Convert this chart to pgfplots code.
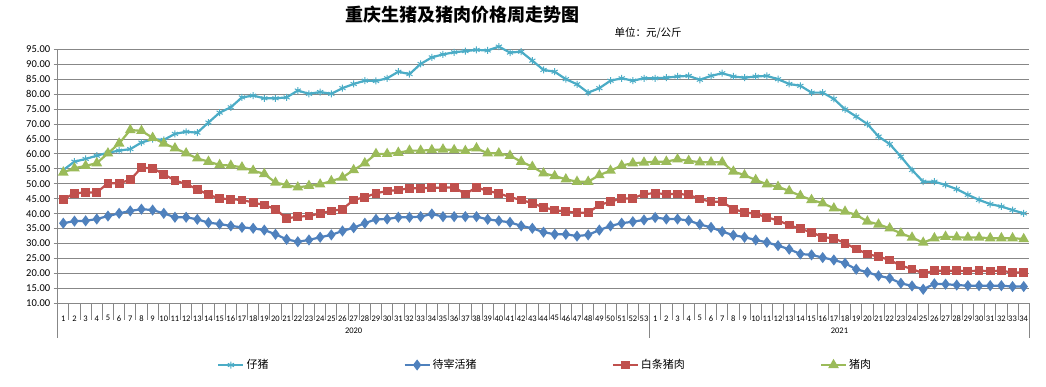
\documentclass[border=0pt]{standalone}
\usepackage{pgfplots}
\pgfplotsset{compat=1.18}
\usepackage{pgfplotstable}
\usepackage{fontspec}
\setmainfont{Carlito}
\newfontfamily\cjk{Noto Sans CJK SC}
\definecolor{czz}{HTML}{4BACC6}
\definecolor{cdz}{HTML}{4F81BD}
\definecolor{cbt}{HTML}{C0504D}
\definecolor{czr}{HTML}{9BBB59}
\definecolor{axgray}{HTML}{878787}
\pgfplotstableread{
x zz dz bt zr
1 54.6 36.8 44.8 53.8
2 57.4 37.5 46.8 55.2
3 58.3 37.6 47.1 56.0
4 59.4 38.2 47.1 56.9
5 60.4 39.2 50.2 60.2
6 61.1 40.1 50.2 63.5
7 61.6 40.9 51.3 68.0
8 63.8 41.5 55.4 67.7
9 64.9 41.2 55.2 65.4
10 64.7 40.1 53.2 63.5
11 66.7 38.8 51.1 61.9
12 67.4 38.8 49.9 60.2
13 67.1 38.1 48.2 58.5
14 70.5 37.0 46.3 57.4
15 73.8 36.5 45.1 56.3
16 75.6 35.9 44.8 56.1
17 78.9 35.4 44.6 55.5
18 79.5 35.1 43.7 54.4
19 78.6 34.5 42.9 53.3
20 78.6 33.1 41.5 50.4
21 78.9 31.4 38.4 49.6
22 81.2 30.6 39.0 48.8
23 80.1 31.2 39.2 49.3
24 80.7 32.1 40.1 49.8
25 80.1 32.9 40.9 50.9
26 82.0 34.2 41.5 52.1
27 83.4 35.3 44.6 54.6
28 84.5 36.8 45.5 56.9
29 84.4 38.1 46.8 60.0
30 85.3 38.2 47.6 60.0
31 87.5 38.8 47.9 60.4
32 86.7 38.8 48.5 61.1
33 90.1 39.0 48.5 61.1
34 92.3 39.9 48.7 61.3
35 93.3 39.0 48.7 61.5
36 94.0 39.0 48.8 61.3
37 94.4 39.0 46.6 61.0
38 94.8 39.0 48.8 61.9
39 94.6 38.1 47.6 60.2
40 95.9 37.6 46.8 60.2
41 93.9 37.1 45.5 59.4
42 94.2 35.9 44.6 57.4
43 91.2 35.1 43.5 55.7
44 88.1 33.8 42.1 53.5
45 87.5 33.1 41.2 52.6
46 85.0 33.1 40.7 51.5
47 83.3 32.5 40.3 50.7
48 80.5 32.9 40.3 50.7
49 82.0 34.5 42.9 52.9
50 84.5 35.9 44.0 54.4
51 85.3 36.8 45.1 56.1
52 84.5 37.3 45.1 56.9
53 85.3 37.9 46.6 57.1
54 85.3 38.7 46.8 57.4
55 85.5 38.2 46.6 57.4
56 85.9 38.2 46.6 58.2
57 86.1 37.7 46.3 57.7
58 84.8 36.4 44.9 57.2
59 86.1 35.4 44.0 57.2
60 87.0 34.0 44.0 57.2
61 85.9 32.8 41.5 54.1
62 85.5 32.1 40.5 52.9
63 85.9 31.2 39.9 51.3
64 86.1 30.4 38.8 49.8
65 85.0 29.3 37.7 49.0
66 83.4 28.1 36.2 47.6
67 82.8 26.5 34.9 46.0
68 80.5 26.2 33.8 44.6
69 80.5 25.3 32.1 43.5
70 78.4 24.5 31.8 41.8
71 74.9 23.4 30.1 40.7
72 72.5 21.4 28.2 39.6
73 70.0 20.4 26.5 37.4
74 65.8 19.2 25.6 36.4
75 63.3 18.4 24.5 35.1
76 59.1 16.7 22.6 33.4
77 54.6 15.8 21.5 32.0
78 50.7 14.7 20.0 30.3
79 50.7 16.5 20.9 31.8
80 49.6 16.4 20.9 32.3
81 48.2 16.1 20.9 32.1
82 46.3 15.9 20.8 32.0
83 44.6 15.9 20.9 32.0
84 43.2 15.9 20.8 31.8
85 42.4 15.9 20.9 31.8
86 41.2 15.6 20.3 31.8
87 40.1 15.6 20.3 31.5
}\data
\begin{document}
\begin{tikzpicture}
\useasboundingbox (0pt,0pt) rectangle (1046pt,387pt);
\node[font=\cjk\bfseries\fontsize{18}{20}\selectfont] at (462pt,372pt) {重庆生猪及猪肉价格周走势图};
\node[font=\cjk\fontsize{10.5}{12}\selectfont, anchor=west] at (611pt,354pt) {单位：元/公斤};
\begin{axis}[
  at={(57.7pt,83.7pt)}, anchor=south west,
  scale only axis, width=971.6pt, height=254pt,
  xmin=0.5, xmax=87.5, ymin=10, ymax=95,
  clip=false,
  axis x line*=bottom, axis y line*=left,
  axis line style={axgray, line width=0.8pt, -},
  ytick={10,15,...,95},
  ymajorgrids, grid style={axgray, line width=0.8pt},
  tick align=outside, major tick length=4pt,
  ytick style={axgray, line width=0.8pt},
  major x tick style={draw=none},
  /pgf/number format/assume math mode=true,
  yticklabel style={font=\fontsize{10.5}{12}\selectfont, /pgf/number format/fixed, /pgf/number format/fixed zerofill, /pgf/number format/precision=2},
  xtick={1,...,87},
  xticklabels={1,2,3,4,5,6,7,8,9,10,11,12,13,14,15,16,17,18,19,20,21,22,23,24,25,26,27,28,29,30,31,32,33,34,35,36,37,38,39,40,41,42,43,44,45,46,47,48,49,50,51,52,53,1,2,3,4,5,6,7,8,9,10,11,12,13,14,15,16,17,18,19,20,21,22,23,24,25,26,27,28,29,30,31,32,33,34},
  xticklabel style={font=\fontsize{8.5}{9}\selectfont, anchor=center, yshift=-11pt},
  legend columns=4,
  legend style={draw=none, fill=none, at={(0.161,-0.243)}, anchor=west,
    font=\cjk\fontsize{11}{13}\selectfont,
    /tikz/every even column/.append style={column sep=133pt}},
  legend image code/.code={\draw[#1, mark repeat=2, mark phase=2] plot coordinates {(0pt,0pt) (12.5pt,0pt) (25pt,0pt)};},
]
\addplot[czz, line width=2.2pt, mark=asterisk, mark size=3.5pt, mark options={line width=1pt}] table[x=x,y=zz]{\data};
\addlegendentry{仔猪}
\addplot[cdz, line width=2.2pt, mark=diamond*, mark size=3.8pt, mark options={solid}] table[x=x,y=dz]{\data};
\addlegendentry{待宰活猪}
\addplot[cbt, line width=2.2pt, mark=square*, mark size=3.3pt, mark options={solid}] table[x=x,y=bt]{\data};
\addlegendentry{白条猪肉}
\addplot[czr, line width=2.2pt, mark=triangle*, mark size=4.0pt, mark options={solid}] table[x=x,y=zr]{\data};
\addlegendentry{猪肉}
\pgfplotsinvokeforeach{0,...,87}{\draw[axgray, line width=0.8pt] (axis cs:#1.5,10) -- ++(0pt,-17pt);}
\draw[axgray, line width=0.8pt] (axis cs:0.5,10) -- ++(0pt,-35pt);
\draw[axgray, line width=0.8pt] (axis cs:53.5,10) -- ++(0pt,-35pt);
\draw[axgray, line width=0.8pt] (axis cs:87.5,10) -- ++(0pt,-35pt);
\node[font=\fontsize{8.5}{9}\selectfont, yshift=-27.7pt] at (axis cs:27,10) {2020};
\node[font=\fontsize{8.5}{9}\selectfont, yshift=-27.7pt] at (axis cs:70.5,10) {2021};
\end{axis}
\end{tikzpicture}
\end{document}
